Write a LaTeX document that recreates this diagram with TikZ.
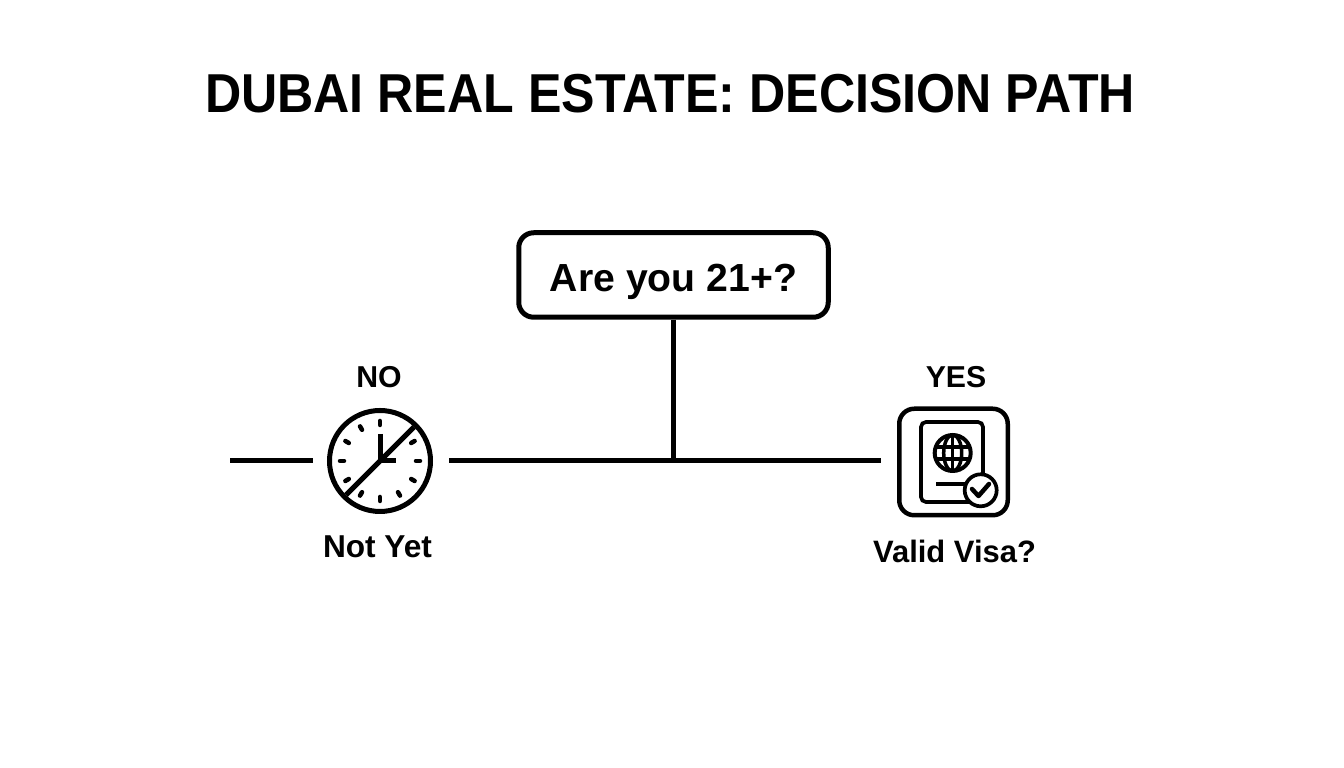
\documentclass[tikz,border=0pt]{standalone}
\usepackage{fontspec}
\setmainfont{Liberation Sans}
\newfontfamily\titlefont[FakeStretch=0.915]{Liberation Sans}
\usetikzlibrary{calc}
\tikzset{
	heading/.style={anchor=base, font=\titlefont\bfseries\fontsize{15.6}{18}\selectfont},
	caption/.style={anchor=base, font=\bfseries\fontsize{8.6}{10}\selectfont},
	wire/.style={line width=0.5mm},
	gapped/.style={shorten >=1.6mm, shorten <=1.6mm},
}

\begin{document}
\begin{tikzpicture}
	%%%%% START %%%%%
	\useasboundingbox (0, 0) rectangle (13.44, 7.68);

	\node[heading] (title) at (6.70, 6.55) {DUBAI REAL ESTATE: DECISION PATH};

	\node[draw, wire, rounded corners=1.5mm, minimum width=3.095cm, minimum height=0.845cm, inner sep=0,
		text height=0.40cm, text depth=0.07cm, font=\bfseries\fontsize{11.15}{13}\selectfont] (question) at (6.735, 4.93) {Are you 21+?};

	\node[caption] (no) at (3.79, 3.80) {NO};
	\node[caption] (yes) at (9.56, 3.80) {YES};
	\node[caption, font=\bfseries\fontsize{9}{10}\selectfont] (notyet) at (3.775, 2.10) {Not Yet};
	\node[caption, font=\bfseries\fontsize{8.8}{10}\selectfont] (visa) at (9.545, 2.05) {Valid Visa?};

	\node[draw, wire, circle, minimum size=1.01cm, inner sep=0] (clock) at (3.80, 3.07) {};
	\node[draw, line width=0.45mm, rounded corners=1.5mm, minimum width=1.085cm, minimum height=1.065cm, inner sep=0] (passport) at (9.535, 3.06) {};

	\coordinate (tail) at (2.30, 3.07);
	\coordinate (fork) at (question |- clock);

	\draw[wire, shorten >=1.4mm] (tail) -- (clock);
	\draw[wire, gapped] (clock) -- (passport.west |- clock);
	\draw[wire] (question) -- (fork);

	% clock face
	\foreach \hour in {0, 2, 3, ..., 11} {
		\draw[line width=0.45mm, line cap=round] ($(clock)+({90-30*\hour}:0.36)$) -- ($(clock)+({90-30*\hour}:0.40)$);
	}
	\draw[line width=0.5mm] (3.80, 3.34) -- (3.80, 3.07) -- (3.96, 3.07);
	\draw[wire] (3.46, 2.73) -- (4.14, 3.41);

	% passport
	\draw[line width=0.37mm, rounded corners=0.5mm] (9.21, 3.46) rectangle (9.83, 2.66);
	\draw[line width=0.35mm] (9.36, 2.84) -- (9.67, 2.84);

	\draw[line width=0.4mm] (9.527, 3.15) circle (0.18);
	\draw[line width=0.35mm] (9.527, 3.15) ellipse (0.09 and 0.18);
	\draw[line width=0.35mm] (9.527, 2.97) -- (9.527, 3.33);
	\draw[line width=0.35mm] (9.36, 3.21) -- (9.69, 3.21);
	\draw[line width=0.35mm] (9.36, 3.09) -- (9.69, 3.09);

	\draw[line width=0.37mm, fill=white] (9.807, 2.777) circle (0.16);
	\draw[line width=0.45mm, line cap=round, line join=round] (9.72, 2.79) -- (9.785, 2.72) -- (9.89, 2.84);
	%%%%% END %%%%%
\end{tikzpicture}
\end{document}
